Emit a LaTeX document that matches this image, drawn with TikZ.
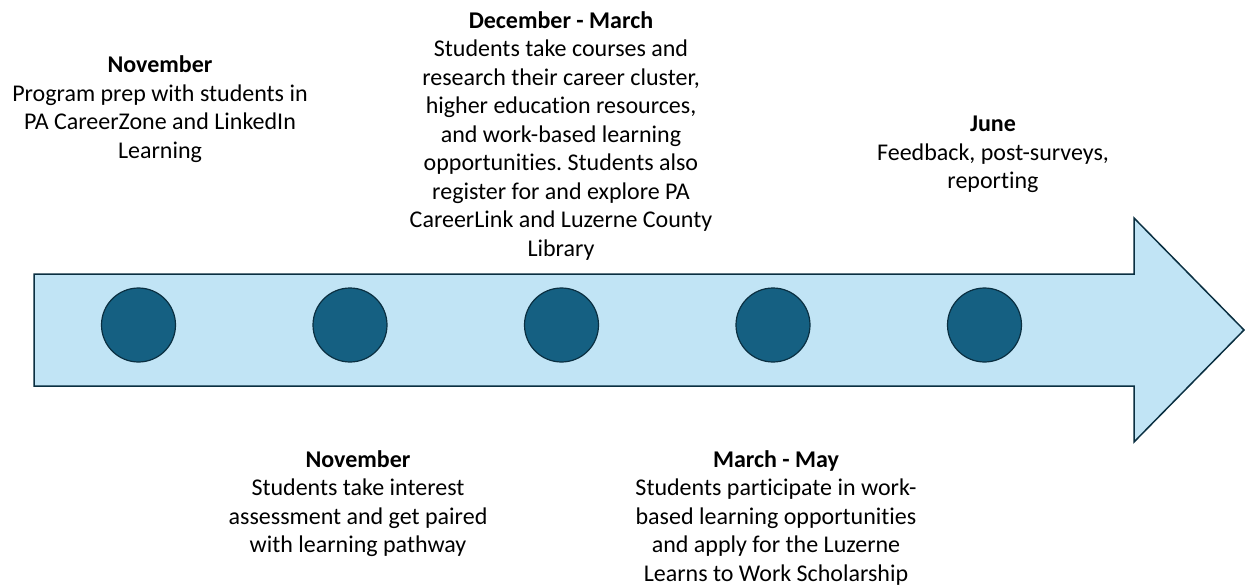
\documentclass[tikz,border=0pt]{standalone}
\usepackage{fontspec}
\setmainfont[Ligatures=NoCommon]{Carlito}
\frenchspacing
\usepackage{tikz}

\definecolor{barfill}{HTML}{C1E4F5}
\definecolor{barline}{HTML}{0A2F41}
\definecolor{dotfill}{HTML}{156082}

\begin{document}
\begin{tikzpicture}[x=1pt,y=-1pt,line join=miter,
                    every node/.style={font=\fontsize{24}{28.5}\selectfont}]
  \tikzstyle{milestone}=[circle,draw=barline,fill=dotfill,line width=1.2pt,
                         minimum size=74pt,inner sep=0pt]
  \tikzstyle{note}=[align=center,anchor=base,inner sep=0pt]

  \useasboundingbox (0,0) rectangle (1245,588);

  % time line arrow
  \draw[barline,fill=barfill,line width=1.5pt]
    (34,274) -- (1134,274) -- (1134,218) -- (1244,330)
    -- (1134,442) -- (1134,386) -- (34,386) -- cycle;

  \node[milestone] (m1) at (138.5,325) {};
  \node[milestone] (m2) at (350,325)   {};
  \node[milestone] (m3) at (561.5,325) {};
  \node[milestone] (m4) at (773,325)   {};
  \node[milestone] (m5) at (984.5,325) {};

  % base anchor sits on the last line
  \node[note] (nov1) at (160,158.5)  {\textbf{November}\\Program prep with students in\\PA CareerZone and LinkedIn\\Learning};
  \node[note] (nov2) at (358,552.5) {\textbf{November}\\Students take interest\\assessment and get paired\\with learning pathway};
  \node[note] (decmar) at (561,256) {\textbf{December - March}\\Students take courses and\\research their career cluster,\\higher education resources,\\and work-based learning\\opportunities. Students also\\register for and explore PA\\CareerLink and Luzerne County\\Library};
  \node[note] (marmay) at (776,581) {\textbf{March - May}\\Students participate in work-\\based learning opportunities\\and apply for the Luzerne\\Learns to Work Scholarship};
  \node[note] (june) at (993,189) {\textbf{June}\\Feedback, post-surveys,\\reporting};
\end{tikzpicture}
\end{document}
